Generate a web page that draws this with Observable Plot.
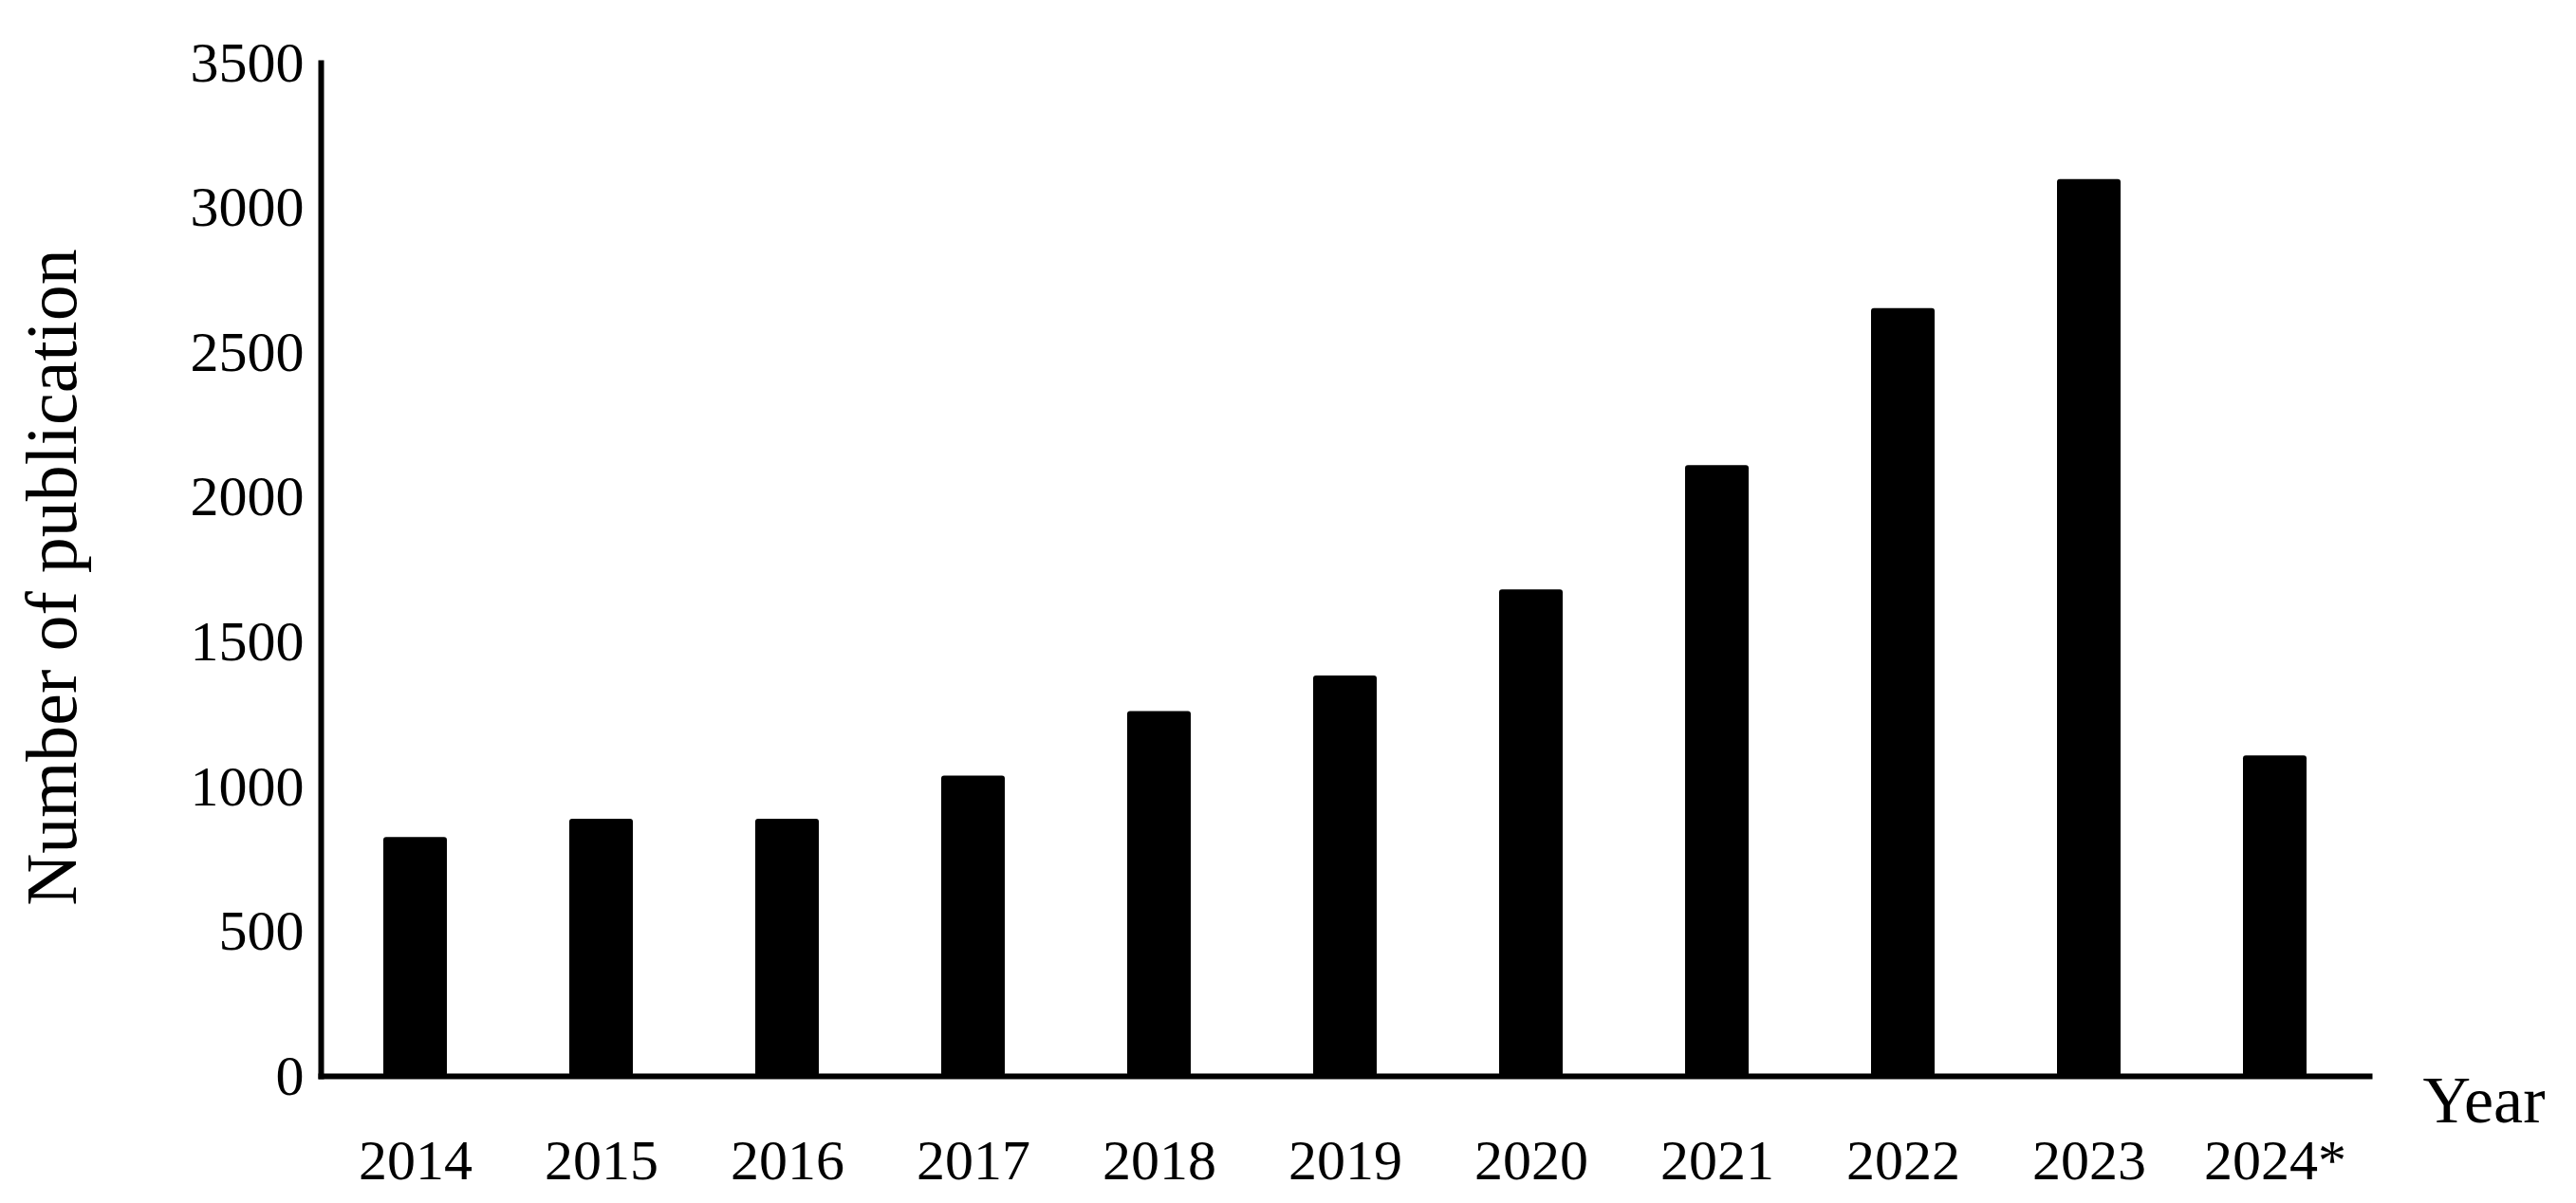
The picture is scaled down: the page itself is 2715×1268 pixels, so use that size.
<!DOCTYPE html>
<html>
<head>
<meta charset="utf-8">
<script src="https://cdn.jsdelivr.net/npm/d3@7"></script>
<script src="https://cdn.jsdelivr.net/npm/@observablehq/plot@0.6"></script>
<style>
  html, body { margin: 0; padding: 0; background: #fff; }
  #chart svg { display: block; }
</style>
</head>
<body>
<div id="chart"></div>
<script>
const years = ["2014", "2015", "2016", "2017", "2018", "2019", "2020", "2021", "2022", "2023", "2024*"];
const publications = [825, 888, 888, 1037, 1260, 1383, 1680, 2110, 2652, 3098, 1107];
const yTicks = [0, 500, 1000, 1500, 2000, 2500, 3000, 3500];
const yTitle = "Number of publication";
const xTitle = "Year";

const data = years.map((year, i) => ({year, value: publications[i]}));
const font = "'Liberation Serif', 'DejaVu Serif', serif";

const chart = Plot.plot({
  width: 2715,
  height: 1268,
  marginLeft: 338,
  marginRight: 218,
  marginTop: 66,
  marginBottom: 134,
  style: {fontFamily: font, background: "#fff", color: "#000"},
  x: {domain: years, paddingInner: 0.66, paddingOuter: 0.33},
  y: {domain: [0, 3500]},
  marks: [
    Plot.barY(data, {x: "year", y: "value", fill: "#000", rx: 3}),
    Plot.frame({anchor: "left", stroke: "#000", strokeWidth: 6}),
    Plot.frame({anchor: "bottom", stroke: "#000", strokeWidth: 6}),
    Plot.axisY({ticks: yTicks, tickFormat: d => String(d), tickSize: 0, tickPadding: 18, fontSize: 60, label: null}),
    Plot.axisX({tickSize: 0, tickPadding: 66, fontSize: 60, label: null}),
    Plot.text([yTitle], {frameAnchor: "left", rotate: -90, dx: -283, dy: 8, fontSize: 76, textAnchor: "middle", lineAnchor: "middle"}),
    Plot.text([xTitle], {frameAnchor: "bottom-right", dx: 56, dy: 48, fontSize: 70, textAnchor: "start", lineAnchor: "bottom"})
  ]
});
document.getElementById("chart").appendChild(chart);
</script>
</body>
</html>
